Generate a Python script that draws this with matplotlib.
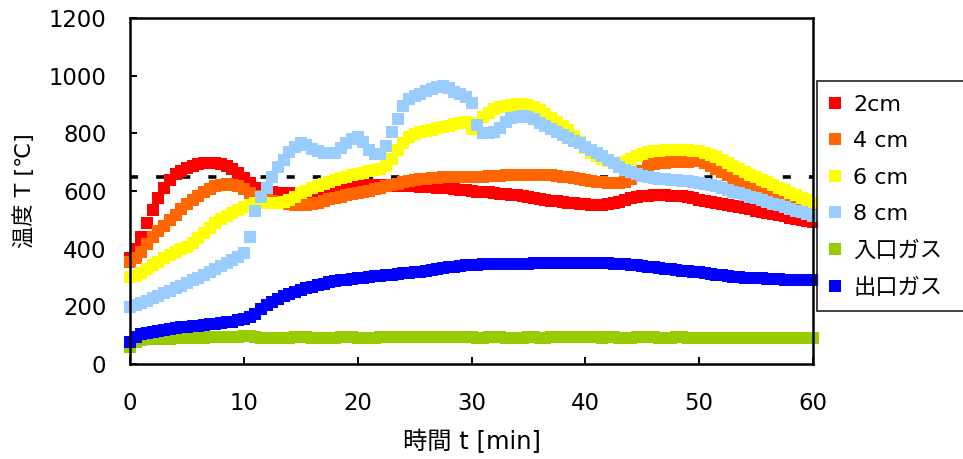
import numpy as np
import matplotlib
matplotlib.use("Agg")
import matplotlib.pyplot as plt

plt.rcParams['font.family'] = ['DejaVu Sans', 'Noto Sans CJK JP']
plt.rcParams['lines.scale_dashes'] = False

# time axis: one reading every 30 s
time_min = np.arange(0, 60.01, 0.5)

temp_2cm = [368, 400, 440, 490, 535, 575, 612, 638, 658, 670,
            680, 688, 693, 697, 698, 698, 694, 687, 676, 662,
            646, 628, 612, 603, 598, 595, 593, 592, 591, 592,
            594, 596, 599, 602, 605, 608, 611, 614, 616, 618,
            619, 620, 621, 621, 621, 620, 620, 619, 618, 617,
            616, 615, 614, 613, 612, 611, 609, 607, 604, 602,
            600, 598, 597, 595, 593, 591, 589, 587, 585, 583,
            580, 577, 573, 570, 567, 565, 562, 560, 558, 556,
            555, 553, 552, 552, 554, 558, 563, 568, 575, 579,
            582, 584, 585, 585, 585, 584, 583, 581, 578, 574,
            570, 567, 563, 560, 556, 552, 548, 544, 540, 536,
            532, 528, 524, 520, 516, 512, 508, 504, 500, 497,
            494]

temp_4cm = [355, 368, 388, 415, 440, 460, 480, 500, 518, 537,
            555, 568, 582, 598, 608, 616, 621, 624, 622, 616,
            606, 594, 584, 576, 569, 564, 560, 557, 554, 552,
            551, 552, 555, 560, 566, 571, 576, 580, 585, 589,
            593, 597, 601, 606, 611, 616, 621, 626, 631, 635,
            638, 640, 642, 644, 646, 648, 649, 650, 650, 650,
            650, 650, 650, 651, 652, 653, 654, 655, 655, 656,
            656, 656, 656, 655, 654, 652, 650, 647, 644, 640,
            637, 634, 632, 630, 628, 628, 629, 632, 640, 655,
            670, 685, 695, 698, 698, 699, 700, 701, 702, 703,
            703, 697, 688, 677, 665, 655, 645, 635, 625, 616,
            608, 600, 592, 584, 576, 568, 561, 554, 548, 544,
            540]

temp_6cm = [303, 306, 315, 328, 343, 355, 366, 378, 388, 398,
            407, 420, 438, 455, 472, 488, 502, 513, 525, 535,
            545, 553, 558, 560, 560, 560, 560, 562, 568, 578,
            592, 600, 610, 618, 626, 632, 638, 644, 650, 655,
            660, 664, 668, 673, 678, 685, 712, 742, 768, 787,
            797, 803, 808, 812, 817, 822, 827, 832, 836, 840,
            815, 835, 855, 872, 883, 890, 896, 900, 903, 903,
            900, 893, 882, 868, 852, 838, 825, 810, 790, 770,
            750, 733, 720, 710, 703, 698, 697, 702, 712, 722,
            730, 735, 738, 740, 741, 742, 742, 742, 741, 740,
            738, 732, 725, 718, 708, 697, 686, 676, 666, 656,
            647, 638, 630, 621, 612, 603, 594, 585, 577, 568,
            558]

temp_8cm = [199, 203, 210, 218, 228, 236, 245, 254, 262, 271,
            280, 290, 300, 310, 320, 330, 340, 350, 360, 370,
            385, 440, 530, 580, 610, 650, 682, 707, 735, 752,
            765, 758, 745, 738, 733, 731, 733, 750, 768, 780,
            789, 770, 742, 728, 727, 755, 805, 850, 895, 918,
            930, 938, 948, 955, 962, 965, 958, 945, 935, 925,
            905, 830, 800, 800, 805, 820, 838, 852, 858, 860,
            858, 850, 835, 825, 815, 805, 795, 785, 775, 765,
            753, 742, 731, 720, 708, 696, 684, 672, 665, 658,
            652, 648, 645, 643, 641, 639, 637, 635, 633, 631,
            628, 625, 621, 616, 610, 604, 598, 592, 586, 580,
            574, 568, 562, 556, 550, 544, 538, 532, 526, 520,
            514]

temp_inlet = [60, 75, 83, 85, 86, 87, 88, 88, 89, 89,
              90, 90, 91, 91, 92, 92, 93, 93, 94, 95,
              96, 96, 93, 91, 90, 90, 90, 91, 91, 92,
              92, 92, 91, 91, 90, 90, 91, 92, 92, 92,
              91, 90, 90, 91, 92, 92, 93, 93, 92, 92,
              93, 93, 92, 92, 93, 93, 92, 92, 93, 93,
              92, 91, 91, 92, 92, 92, 91, 90, 90, 91,
              92, 92, 91, 91, 92, 92, 93, 93, 92, 92,
              93, 93, 92, 91, 92, 92, 91, 90, 91, 92,
              92, 93, 92, 91, 90, 91, 92, 92, 91, 91,
              90, 90, 89, 89, 89, 89, 89, 89, 89, 89,
              89, 89, 89, 89, 89, 89, 89, 89, 89, 89,
              89]

temp_outlet = [78, 95, 105, 108, 112, 115, 118, 121, 124, 127,
               129, 131, 133, 135, 137, 139, 141, 144, 147, 151,
               155, 162, 175, 190, 203, 215, 226, 235, 243, 250,
               256, 262, 268, 274, 279, 283, 287, 290, 293, 296,
               298, 300, 302, 304, 306, 308, 310, 312, 314, 316,
               318, 320, 323, 326, 329, 332, 335, 337, 340, 342,
               344, 345, 346, 346, 347, 347, 347, 347, 348, 348,
               348, 349, 349, 350, 350, 350, 350, 350, 350, 350,
               350, 350, 350, 350, 349, 348, 347, 346, 344, 342,
               340, 338, 335, 333, 330, 328, 326, 324, 322, 320,
               318, 315, 312, 310, 307, 305, 303, 302, 300, 299,
               298, 297, 296, 295, 294, 293, 292, 291, 290, 290,
               290]

series_labels = ['2cm', '4 cm', '6 cm', '8 cm', '入口ガス', '出口ガス']
series_colors = ['#FF0000', '#FF6600', '#FFFF00', '#99CCFF', '#99CC00', '#0000FF']
series_values = [temp_2cm, temp_4cm, temp_6cm, temp_8cm, temp_inlet, temp_outlet]

reference_level = 650
x_ticks = [0, 10, 20, 30, 40, 50, 60]
y_ticks = [0, 200, 400, 600, 800, 1000, 1200]

fig = plt.figure(figsize=(9.63, 4.59), dpi=100)
ax = fig.add_axes([130 / 963, 1 - 364 / 459, (813 - 130) / 963, (364 - 18) / 459])

ax.plot([0, 60], [reference_level, reference_level], color='black', lw=2.6,
        dashes=(5.8, 13.0), zorder=1)

handles = []
for vals, col, lab in zip(series_values, series_colors, series_labels):
    h, = ax.plot(time_min, vals, ls='none', marker='s', ms=8.3, mew=0,
                 color=col, label=lab, clip_on=False, zorder=2)
    handles.append(h)

ax.set_xlim(0, 60)
ax.set_ylim(0, 1200)
ax.set_xticks(x_ticks)
ax.set_yticks(y_ticks)
ax.tick_params(direction='in', length=5, width=1.4, labelsize=16.4)
ax.tick_params(axis='x', pad=20)
ax.tick_params(axis='y', pad=17)
for s in ax.spines.values():
    s.set_linewidth(1.8)
    s.set_zorder(3)

ax.set_xlabel('時間 t [min]', fontsize=17.5, labelpad=11)
ax.set_ylabel('温度 T [℃]', fontsize=16, labelpad=10)

leg = fig.legend(handles=handles, loc='upper left',
                 bbox_to_anchor=(817 / 963, 0, 0.2, 1 - 81 / 459),
                 mode='expand', fontsize=16, frameon=True, fancybox=False,
                 borderaxespad=0, borderpad=0.62, handlelength=0.4,
                 handletextpad=0.6, labelspacing=0.74, markerscale=1.05)
leg.get_frame().set_edgecolor('black')
leg.get_frame().set_linewidth(1.3)

fig.savefig('out.png', dpi=100)
